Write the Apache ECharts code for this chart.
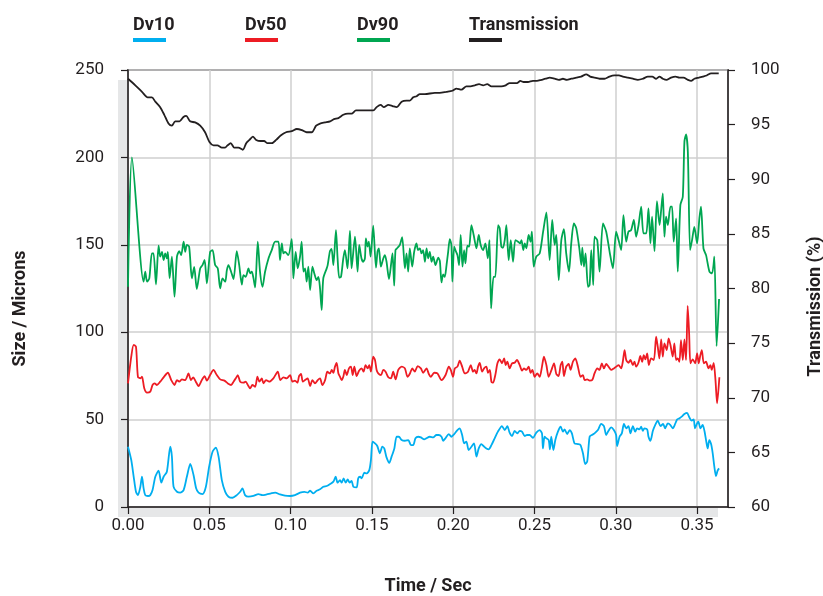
<!DOCTYPE html>
<html>
<head>
<meta charset="utf-8">
<script src="https://cdn.jsdelivr.net/npm/echarts@6/dist/echarts.min.js"></script>
<style>html,body{margin:0;padding:0;background:#fff;}#c{width:823px;height:596px;}</style>
</head>
<body>
<div id="c"></div>
<script>
// ---------------- DATA ----------------
const seriesNames = ['Dv10', 'Dv50', 'Dv90', 'Transmission'];
const xTickLabels = ['0.00','0.05','0.10','0.15','0.20','0.25','0.30','0.35'];

const dv90Time = [0,0.0024,0.0096,0.0106,0.0117,0.0131,0.0147,0.0157,0.0172,0.0188,0.0198,0.0209,0.0219,0.0229,0.0239,0.0245,0.0256,0.0270,0.0286,0.0301,0.0315,0.0327,0.0342,0.0352,0.0362,0.0376,0.0393,0.0407,0.0423,0.0444,0.0458,0.0471,0.0485,0.0505,0.0520,0.0536,0.0552,0.0567,0.0581,0.0598,0.0608,0.0618,0.0634,0.0649,0.0669,0.0684,0.0700,0.0710,0.0724,0.0741,0.0751,0.0761,0.0771,0.0782,0.0798,0.0812,0.0827,0.0843,0.0864,0.0884,0.0905,0.0925,0.0935,0.0946,0.0956,0.0966,0.0986,0.1007,0.1017,0.1031,0.1044,0.1058,0.1068,0.1079,0.1089,0.1099,0.1109,0.1120,0.1134,0.1146,0.1160,0.1171,0.1181,0.1191,0.1201,0.1222,
0.1228,0.1242,0.1252,0.1263,0.1279,0.1289,0.1299,0.1310,0.1324,0.1334,0.1350,0.1365,0.1375,0.1396,0.1412,0.1422,0.1436,0.1447,0.1457,0.1463,0.1473,0.1481,0.1492,0.1508,0.1525,0.1535,0.1543,0.1555,0.1570,0.1580,0.1590,0.1605,0.1621,0.1627,0.1637,0.1645,0.1658,0.1672,0.1686,0.1703,0.1713,0.1723,0.1733,0.1748,0.1760,0.1774,0.1784,0.1795,0.1805,0.1815,0.1826,0.1836,0.1846,0.1856,0.1867,0.1877,0.1891,0.1908,0.1918,0.1928,0.1938,0.1948,0.1959,0.1969,0.1979,0.1989,0.1995,0.2006,0.2016,0.2026,0.2036,0.2046,0.2057,0.2067,0.2075,0.2087,0.2098,0.2112,0.2126,0.2143,0.2157,0.2169,0.2184,0.2198,0.2213,0.2223,0.2233,0.2248,0.2259,0.2276,0.2286,0.2296,0.2306,0.2317,0.2327,0.2341,0.2354,0.2368,0.2382,0.2399,0.2411,0.2420,0.2431,0.2440,0.2450,0.2464,
0.2476,0.2484,0.2495,0.2511,0.2532,0.2553,0.2573,0.2593,0.2609,0.2624,0.2634,0.2649,0.2665,0.2681,0.2695,0.2712,0.2726,0.2742,0.2757,0.2777,0.2788,0.2794,0.2804,0.2814,0.2829,0.2839,0.2849,0.2861,0.2869,0.2886,0.2900,0.2921,0.2941,0.2962,0.2982,0.3002,0.3017,0.3033,0.3047,0.3064,0.3078,0.3094,0.3111,0.3125,0.3140,0.3156,0.3170,0.3187,0.3201,0.3213,0.3223,0.3238,0.3253,0.3269,0.3279,0.3289,0.3299,0.3309,0.3320,0.3336,0.3346,0.3356,0.3371,0.3381,0.3397,0.3412,0.3422,0.3432,0.3443,0.3457,0.3469,0.3483,0.3500,0.3514,0.3524,0.3539,0.3555,0.3576,0.3592,0.3606,0.3620,0.3635];
const dv90 = [126,200,128.9,134.6,128.9,130.8,145.1,145.1,127.3,149.5,143.2,146.0,141.3,145.1,142.2,146.0,130.8,143.2,120.3,143.2,146.4,144.1,151.8,146.0,149.9,148.9,130.8,137.4,124.7,136.5,138.4,141.3,127.9,146.0,147.0,138.4,136.5,125.1,130.8,128.9,135.5,138.4,134.6,130.4,146.4,138.4,127.3,132.7,131.7,136.5,133.6,134.6,131.2,125.6,151.8,134.6,126.0,134.6,142.2,147.0,151.8,151.8,141.3,150.8,145.1,146.0,144.1,153.3,130.8,146.0,136.5,143.2,151.8,134.6,136.5,128.9,137.5,124.1,137.5,133.6,129.8,131.7,125.1,112.7,130.8,136.5,
138.4,146.4,147.6,138.4,158.4,142.2,131.2,131.7,142.2,147.0,136.5,157.9,136.5,154.6,134.6,149.9,142.2,140.3,142.2,153.7,148.9,151.8,143.2,160.9,136.9,146.4,148.0,137.5,142.2,144.1,140.3,130.4,141.3,145.1,126.6,147.0,148.3,149.9,154.4,136.5,145.1,134.6,148.0,137.5,146.0,150.8,147.0,148.0,145.1,147.0,140.3,148.0,142.2,146.0,140.3,143.2,138.4,142.6,140.7,128.5,133.1,131.7,138.4,146.0,153.3,149.9,128.9,148.9,146.4,144.1,138.4,155.6,137.5,147.0,139.4,149.5,148.9,161.3,155.6,148.0,155.6,149.9,147.0,150.8,142.2,152.7,113.6,131.7,131.7,161.3,159.4,148.9,148.3,152.7,161.3,141.3,152.7,140.3,152.7,151.8,150.8,152.7,147.0,150.8,148.0,155.6,
151.8,157.5,137.5,143.2,145.1,157.5,168.5,141.3,164.2,149.9,155.6,129.8,152.7,159.0,145.1,134.6,150.8,162.2,159.4,147.0,138.4,148.3,137.5,145.1,126.0,127.0,147.0,127.0,154.6,152.7,134.6,162.2,157.5,146.0,136.5,157.5,152.7,147.0,167.0,151.8,157.5,158.4,164.2,154.6,161.3,171.8,156.5,156.5,170.8,150.8,166.1,146.4,175.0,161.3,169.9,179.4,154.6,166.1,161.3,171.8,171.8,151.8,165.1,134.6,172.7,177.5,209.0,213.2,203.2,147.0,152.7,160.3,150.8,165.1,171.8,148.0,144.1,134.6,133.6,143.2,92.0,119.0];

const dv50Time = [0,0.0020,0.0035,0.0049,0.0061,0.0076,0.0086,0.0100,0.0117,0.0137,0.0151,0.0164,0.0178,0.0198,0.0219,0.0245,0.0266,0.0286,0.0301,0.0315,0.0331,0.0352,0.0372,0.0387,0.0401,0.0417,0.0434,0.0454,0.0471,0.0485,0.0505,0.0526,0.0546,0.0567,0.0593,0.0614,0.0634,0.0649,0.0663,0.0675,0.0690,0.0710,0.0724,0.0737,0.0751,0.0765,0.0782,0.0796,0.0808,0.0823,0.0833,0.0849,0.0868,0.0894,0.0921,0.0937,0.0956,0.0976,0.0997,0.1011,0.1027,0.1042,0.1052,0.1064,0.1075,0.1089,0.1105,0.1120,0.1134,0.1150,0.1167,0.1181,0.1195,0.1212,0.1226,0.1242,0.1253,0.1263,0.1273,0.1283,0.1294,0.1304,0.1314,0.1324,0.1334,0.1345,0.1359,0.1371,0.1382,0.1392,0.1406,0.1421,0.1437,0.1449,0.1461,0.1474,0.1484,0.1494,0.1508,0.1519,0.1529,0.1539,0.1556,0.1570,0.1584,0.1601,0.1617,0.1631,0.1646,0.1662,0.1683,0.1703,0.1719,0.1734,0.1748,0.1764,0.1781,0.1801,0.1815,0.1836,0.1850,
0.1862,0.1883,0.1903,0.1928,0.1953,0.1973,0.1985,0.1999,0.2010,0.2026,0.2040,0.2055,0.2071,0.2091,0.2108,0.2122,0.2132,0.2143,0.2153,0.2163,0.2178,0.2190,0.2204,0.2214,0.2225,0.2235,0.2245,0.2259,0.2272,0.2286,0.2300,0.2313,0.2323,0.2333,0.2347,0.2362,0.2378,0.2392,0.2409,0.2423,0.2435,0.2450,0.2464,0.2476,0.2487,0.2501,0.2517,0.2532,0.2546,0.2558,0.2573,0.2587,0.2603,0.2620,0.2634,0.2648,0.2661,0.2671,0.2681,0.2695,0.2710,0.2722,0.2736,0.2751,0.2767,0.2783,0.2798,0.2808,0.2824,0.2839,0.2855,0.2869,0.2886,0.2900,0.2914,0.2927,0.2941,0.2955,0.2972,0.2988,0.3003,0.3017,0.3033,0.3043,0.3054,0.3064,0.3078,0.3090,0.3105,0.3115,0.3125,0.3139,0.3151,0.3162,0.3172,0.3182,0.3193,0.3203,0.3217,0.3234,0.3248,0.3258,0.3268,0.3279,0.3289,0.3299,0.3313,0.3325,0.3336,0.3350,0.3360,0.3371,0.3381,0.3391,0.3401,0.3412,0.3422,0.3432,0.3442,0.3451,0.3459,0.3473,0.3488,0.3500,0.3510,0.3520,0.3529,0.3541,0.3555,0.3570,0.3582,0.3590,0.3602,0.3613,0.3623,0.3637];
const dv50 = [70.7,86.0,92.7,91.7,74.5,73.6,74.5,67.9,65.4,66.0,69.8,70.7,69.8,71.7,74.2,76.8,72.6,69.8,72.6,71.7,73.0,72.6,76.4,72.6,74.2,71.7,69.2,72.6,74.9,72.3,75.5,78.4,75.5,73.0,72.3,70.7,69.8,71.7,73.6,75.5,71.7,71.1,71.7,69.8,67.9,69.8,68.8,74.5,71.7,73.6,70.7,72.6,71.7,73.6,77.4,72.6,74.2,73.6,75.5,71.7,72.3,71.1,74.9,76.1,71.7,72.6,73.6,69.2,72.6,70.7,72.6,73.6,69.8,72.6,77.4,76.4,78.4,76.8,80.3,82.5,76.4,74.5,72.6,74.5,78.4,75.5,79.3,80.3,75.5,80.3,74.9,78.0,79.3,77.4,81.2,79.3,81.2,77.4,86.0,84.1,78.4,76.4,75.5,78.4,77.4,74.2,73.6,77.4,73.0,78.4,80.3,79.3,74.5,76.4,79.3,77.4,80.6,79.3,76.8,79.3,76.1,
74.5,76.8,76.4,72.6,75.5,80.3,78.4,74.5,79.3,80.3,83.7,80.3,76.4,77.4,81.2,77.4,78.4,76.4,80.3,82.5,77.4,79.3,80.3,76.8,78.4,71.7,71.1,75.5,82.2,84.5,82.2,85.0,81.2,83.1,79.3,82.2,82.5,84.1,81.2,78.0,79.3,78.4,80.3,76.8,78.4,74.5,76.4,74.5,80.3,86.0,81.2,74.5,78.0,82.2,76.1,74.9,81.2,83.1,74.9,80.3,81.8,78.4,83.1,85.0,80.3,74.5,75.5,72.6,73.0,72.3,72.6,76.4,79.3,78.4,82.2,79.3,81.8,80.3,78.4,79.3,80.3,81.2,79.3,83.1,89.8,84.1,82.5,84.1,81.2,83.1,80.3,82.5,86.4,83.1,86.9,84.5,87.9,81.2,85.0,84.1,97.4,91.7,85.0,95.9,86.0,93.6,89.8,96.5,92.7,86.0,93.6,84.1,85.0,83.1,95.5,84.1,95.9,84.1,115.0,99.3,82.2,84.5,82.2,87.9,82.2,86.9,89.8,82.2,83.1,79.3,81.2,78.4,82.5,72.6,59.3,74.2];

const dv10Time = [0,0.0020,0.0035,0.0049,0.0061,0.0076,0.0086,0.0096,0.0106,0.0123,0.0137,0.0151,0.0168,0.0188,0.0205,0.0219,0.0239,0.0260,0.0270,0.0280,0.0301,0.0321,0.0342,0.0362,0.0383,0.0403,0.0419,0.0434,0.0458,0.0479,0.0499,0.0520,0.0540,0.0557,0.0577,0.0598,0.0618,0.0643,0.0669,0.0690,0.0704,0.0720,0.0741,0.0771,0.0802,0.0827,0.0853,0.0880,0.0905,0.0935,0.0966,0.0997,0.1027,0.1058,0.1085,0.1105,0.1120,0.1140,0.1160,0.1181,0.1201,0.1222,0.1242,0.1263,0.1277,0.1289,0.1304,0.1314,0.1326,0.1339,0.1351,0.1363,0.1375,0.1386,0.1406,0.1416,0.1427,0.1437,0.1453,0.1468,0.1484,0.1494,0.1504,0.1519,0.1533,0.1549,0.1564,0.1576,0.1590,0.1607,0.1621,0.1638,0.1652,0.1666,0.1683,0.1703,0.1724,0.1740,0.1754,0.1768,0.1785,0.1801,0.1822,
0.1856,0.1877,0.1897,0.1911,0.1928,0.1938,0.1952,0.1973,0.1989,0.2006,0.2026,0.2040,0.2055,0.2067,0.2081,0.2095,0.2112,0.2128,0.2143,0.2157,0.2173,0.2190,0.2204,0.2218,0.2235,0.2255,0.2275,0.2300,0.2317,0.2333,0.2347,0.2362,0.2378,0.2394,0.2409,0.2423,0.2440,0.2454,0.2470,0.2491,0.2511,0.2532,0.2546,0.2552,0.2562,0.2573,0.2587,0.2595,0.2603,0.2616,0.2628,0.2644,0.2661,0.2675,0.2685,0.2701,0.2716,0.2730,0.2746,0.2767,0.2783,0.2798,0.2812,0.2824,0.2839,0.2853,0.2869,0.2890,0.2910,0.2927,0.2941,0.2955,0.2972,0.2988,0.3002,0.3008,0.3023,0.3037,0.3050,0.3064,0.3078,0.3090,0.3105,0.3119,0.3131,0.3145,0.3156,0.3166,0.3176,0.3193,0.3201,0.3213,0.3228,0.3242,0.3258,0.3275,0.3291,0.3303,0.3320,0.3336,0.3350,0.3365,0.3377,0.3391,0.3405,0.3422,0.3438,0.3452,0.3467,0.3479,0.3487,0.3500,0.3508,0.3520,0.3534,0.3545,0.3555,0.3565,0.3575,0.3586,0.3596,0.3606,0.3616,0.3626,0.3635];
const dv10 = [34.5,26.9,17.3,8.7,6.8,11.6,17.3,10.7,6.8,6.3,6.8,9.7,17.3,20.8,13.9,17.3,20.2,34.5,28.8,11.6,8.7,8.2,9.7,17.3,24.6,18.3,10.7,8.2,7.4,11.6,23.1,31.6,33.9,28.8,15.4,8.7,5.9,5.3,6.8,8.7,10.7,6.8,5.9,6.3,7.4,6.8,7.2,7.8,8.2,7.2,6.5,6.3,6.8,8.2,8.7,8.2,9.3,7.8,9.3,10.1,11.6,12.0,13.1,14.5,17.3,13.9,15.4,13.9,16.4,13.9,15.8,13.9,15.0,11.6,11.2,16.4,17.3,16.4,19.6,19.2,21.1,26.9,37.4,36.4,34.9,30.7,34.5,33.5,28.4,25.3,28.8,33.5,40.2,40.2,38.3,37.9,38.3,35.4,35.4,39.3,40.2,39.8,38.7,
40.2,39.8,41.2,41.2,40.2,37.9,39.3,41.7,40.2,41.7,44.0,45.0,41.2,36.4,37.4,32.6,34.5,36.4,28.8,33.5,36.0,34.5,33.5,33.0,35.4,39.3,43.1,46.3,44.0,46.3,42.5,40.6,43.6,42.1,43.6,43.1,40.6,41.2,41.2,39.6,42.5,44.0,42.1,33.5,40.2,39.3,38.3,33.0,40.2,32.6,38.3,43.1,45.9,43.1,44.4,41.7,44.0,42.1,36.4,36.0,35.4,30.7,24.6,25.9,40.2,41.2,42.1,44.0,47.5,46.3,41.2,43.6,45.6,44.0,41.2,34.9,40.2,42.1,47.5,45.0,46.3,42.1,46.3,43.1,45.0,44.4,45.9,43.6,45.0,44.4,40.2,37.9,43.6,46.9,49.4,46.3,47.5,45.0,47.8,46.9,45.0,47.5,50.1,50.7,51.7,53.2,53.9,51.3,49.4,50.1,45.0,47.8,48.8,45.0,46.9,43.6,38.3,33.5,38.3,36.0,30.7,23.1,17.7,20.8,22.1];

const transTime = [0,0.0045,0.0086,0.0121,0.0147,0.0168,0.0198,0.0223,0.0249,0.0270,0.0290,0.0317,0.0341,0.0358,0.0382,0.0413,0.0444,0.0474,0.0501,0.0526,0.0550,0.0577,0.0597,0.0612,0.0632,0.0653,0.0679,0.0706,0.0727,0.0747,0.0768,0.0788,0.0817,0.0837,0.0858,0.0884,0.0911,0.0939,0.0972,0.1007,0.1038,0.1069,0.1099,0.1130,0.1157,0.1181,0.1212,0.1243,0.1267,0.1294,0.1324,0.1353,0.1375,0.1402,0.1427,0.1468,0.1509,0.1529,0.1554,0.1574,0.1601,0.1627,0.1652,0.1683,0.1713,0.1734,0.1754,0.1775,0.1795,0.1826,
0.1887,0.1917,0.1958,0.1995,0.2020,0.2051,0.2081,0.2106,0.2133,0.2159,0.2184,0.2209,0.2235,0.2266,0.2296,0.2323,0.2347,0.2368,0.2392,0.2413,0.2433,0.2460,0.2490,0.2515,0.2542,0.2569,0.2593,0.2624,0.2650,0.2675,0.2699,0.2726,0.2757,0.2787,0.2818,0.2842,0.2869,0.2900,0.2930,0.2961,0.2991,0.3019,0.3043,0.3074,0.3105,0.3136,0.3166,0.3197,0.3224,0.3248,0.3269,0.3289,0.3314,0.3340,0.3367,0.3391,0.3416,0.3443,0.3463,0.3483,0.3510,0.3535,0.3559,0.3586,0.3612,0.3633];
const trans = [99.2,98.6,98.0,97.5,97.5,97.1,96.6,95.9,95.1,94.9,95.3,95.3,95.7,95.8,95.3,95.2,94.9,94.3,93.4,93.1,93.1,92.9,92.9,93.1,93.3,92.9,92.9,92.7,93.3,93.6,93.9,93.6,93.5,93.5,93.3,93.3,93.6,94.0,94.3,94.4,94.6,94.5,94.3,94.3,94.9,95.1,95.2,95.3,95.5,95.6,95.9,96.0,96.0,96.3,96.3,96.3,96.3,96.6,96.8,96.6,96.8,96.7,96.6,97.1,97.2,97.2,97.5,97.6,97.8,97.8,
97.9,97.9,98.0,98.1,98.3,98.2,98.5,98.5,98.6,98.7,98.6,98.7,98.5,98.5,98.5,98.6,98.8,98.8,98.8,99.0,98.9,98.9,99.0,99.0,99.1,99.2,99.3,99.2,99.1,99.2,99.1,99.2,99.3,99.4,99.6,99.4,99.3,99.2,99.2,99.4,99.5,99.5,99.4,99.3,99.2,99.1,99.2,99.4,99.4,99.2,99.4,99.2,99.1,99.3,99.4,99.3,99.3,99.1,99.0,99.2,99.3,99.4,99.5,99.7,99.7,99.7];

// ---------------- CHART ----------------
const F = "Roboto,'Liberation Sans',sans-serif";
const INK = '#231f20';
const colors = {Dv10: '#00aeef', Dv50: '#ed1c24', Dv90: '#00a651', Transmission: '#231f20'};
const barKey = {Dv10: 'b0', Dv50: 'b1', Dv90: 'b2', Transmission: 'b3'};
const G = {left: 128, right: 95, top: 70, bottom: 89};
const W = 823, H = 596;

const pairs = (ts, vs) => ts.map((t, i) => [t, vs[i]]);

const chart = echarts.init(document.getElementById('c'), null, {renderer: 'canvas'});

function lineSeries(name, ts, vs, yIdx, z) {
  return {
    name, type: 'line', yAxisIndex: yIdx, data: pairs(ts, vs),
    showSymbol: false, symbol: 'none', smooth: 0.25, z,
    lineStyle: {width: 1.8, color: colors[name]},
    itemStyle: {color: colors[name]},
    emphasis: {disabled: true}
  };
}

const rich = {
  t: {fontFamily: F, fontSize: 18, fontWeight: 'bold', color: INK, width: 100, lineHeight: 26},
  tl: {fontFamily: F, fontSize: 18, fontWeight: 'bold', color: INK, lineHeight: 26}
};
seriesNames.forEach(n => { rich[barKey[n]] = {width: 33, height: 4, backgroundColor: colors[n]}; });

const tickFont = {fontFamily: F, fontSize: 17, color: INK};
const titleFont = {fontFamily: F, fontSize: 18, fontWeight: 'bold', color: INK};

chart.setOption({
  animation: false,
  backgroundColor: '#fff',
  graphic: [{
    type: 'rect', z: -10, silent: true,
    shape: {x: G.left - 10, y: G.top + 10, width: W - G.left - G.right, height: H - G.top - G.bottom},
    style: {fill: '#e6e7e8'}
  }],
  legend: {
    left: 123, top: 11, icon: 'none', itemWidth: 0, itemHeight: 0, itemGap: 7,
    selectedMode: false, data: seriesNames,
    formatter: n => '{' + (n === 'Transmission' ? 'tl' : 't') + '|' + n + '}\n{' + barKey[n] + '|}',
    textStyle: {rich}
  },
  grid: {
    left: G.left, right: G.right, top: G.top, bottom: G.bottom,
    outerBoundsMode: 'none', containLabel: false,
    show: true, backgroundColor: '#fff', borderColor: INK, borderWidth: 1.5
  },
  xAxis: {
    type: 'value', min: 0, max: 0.369, interval: 0.05,
    axisLine: {show: true, lineStyle: {color: INK, width: 1.5}},
    axisTick: {show: true, inside: false, length: 7, lineStyle: {color: INK, width: 1.2}},
    axisLabel: Object.assign({margin: 10, showMaxLabel: false,
      formatter: v => { const i = Math.round(v / 0.05); return Math.abs(v - i * 0.05) < 1e-6 ? xTickLabels[i] : ''; }}, tickFont),
    splitLine: {show: true, lineStyle: {color: '#cfcfcf', width: 1.5}},
    name: 'Time / Sec', nameLocation: 'middle', nameGap: 70,
    nameTextStyle: titleFont
  },
  yAxis: [{
    type: 'value', position: 'left', min: 0, max: 250, interval: 50,
    axisLine: {show: true, lineStyle: {color: INK, width: 1.5}},
    axisTick: {show: true, inside: false, length: 7, lineStyle: {color: INK, width: 1.2}},
    axisLabel: Object.assign({margin: 24}, tickFont),
    splitLine: {show: true, lineStyle: {color: '#cfcfcf', width: 1.5}},
    name: 'Size / Microns', nameLocation: 'middle', nameGap: 99, nameRotate: 90,
    nameTextStyle: Object.assign({padding: [0, 40, 0, 0]}, titleFont)
  }, {
    type: 'value', position: 'right', min: 60, max: 100, interval: 5,
    axisLine: {show: true, lineStyle: {color: INK, width: 1.5}},
    axisTick: {show: true, inside: false, length: 7, lineStyle: {color: INK, width: 1.2}},
    axisLabel: Object.assign({margin: 23}, tickFont),
    splitLine: {show: false},
    name: 'Transmission (%)', nameLocation: 'middle', nameGap: 78, nameRotate: 90,
    nameTextStyle: Object.assign({padding: [0, 36, 0, 0]}, titleFont)
  }],
  series: [
    lineSeries('Dv10', dv10Time, dv10, 0, 3),
    lineSeries('Dv50', dv50Time, dv50, 0, 3),
    lineSeries('Dv90', dv90Time, dv90, 0, 3),
    lineSeries('Transmission', transTime, trans, 1, 4)
  ]
});
</script>
</body>
</html>
